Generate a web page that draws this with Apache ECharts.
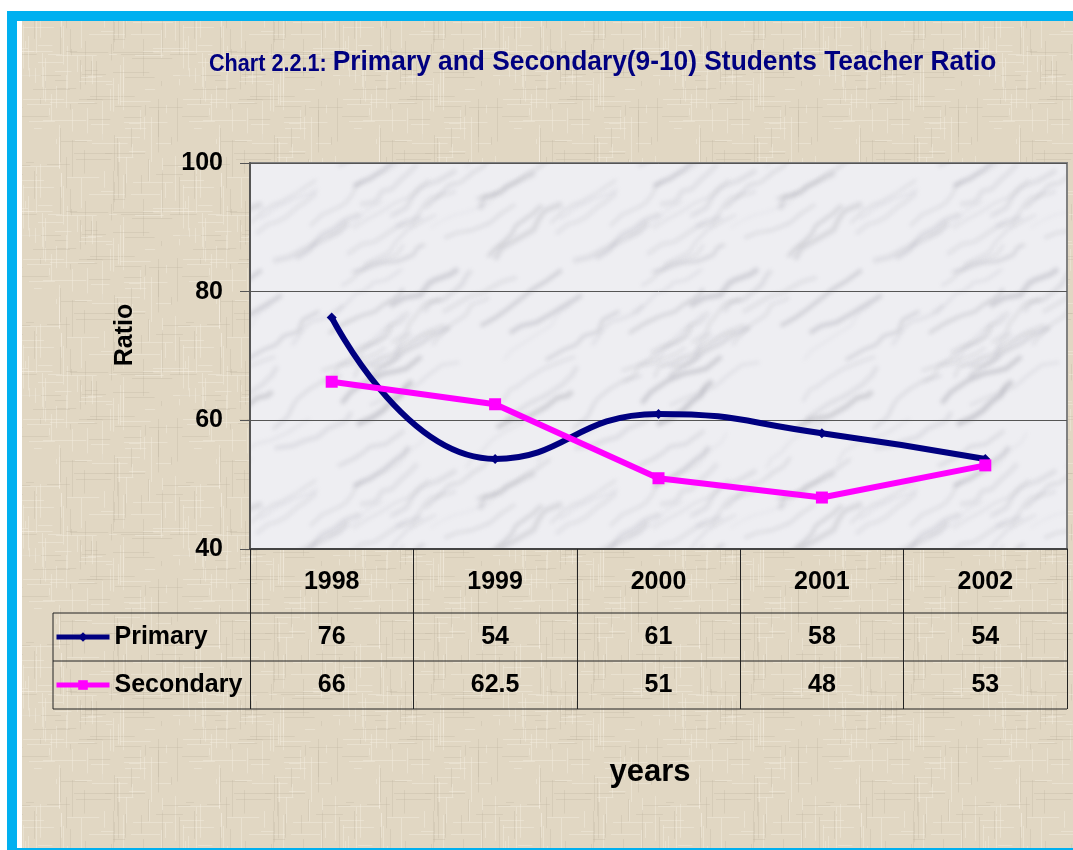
<!DOCTYPE html>
<html>
<head>
<meta charset="utf-8">
<script src="https://cdn.jsdelivr.net/npm/echarts@6/dist/echarts.min.js"></script>
<style>
  html, body { margin: 0; padding: 0; background: #fff; }
  #main { width: 1073px; height: 850px; }
</style>
</head>
<body>
<div id="main"></div>
<script>
const years = ['1998', '1999', '2000', '2001', '2002']
const primary = [76, 54, 61, 58, 54]
const secondary = [66, 62.5, 51, 48, 53]
const seriesNames = ['Primary', 'Secondary']
const yMin = 40
const yMax = 100
const yStep = 20

const FONT = "'Liberation Sans', Arial, sans-serif"
const colors = ['#000080', '#ff00ff']

// texture helpers (decoration only)
let seed = 11
const rnd = () => {
  seed = (seed * 16807) % 2147483647
  return seed / 2147483647
}
const makeCanvas = (w, h) => {
  const c = document.createElement('canvas')
  c.width = w
  c.height = h
  return c
}
const beige = (() => {
  const c = makeCanvas(160, 160)
  const ctx = c.getContext('2d')
  ctx.fillStyle = '#e1d7c3'
  ctx.fillRect(0, 0, 160, 160)
  for (let i = 0; i < 160; i++) {
    const light = rnd() > 0.45
    ctx.fillStyle = light ? 'rgba(244,238,225,0.45)' : 'rgba(185,172,150,0.25)'
    const x = Math.floor(rnd() * 160)
    const y = Math.floor(rnd() * 160)
    const len = 5 + rnd() * 40
    if (rnd() > 0.5) {
      ctx.fillRect(x, y, 1, len)
      ctx.fillRect(x, y - 160, 1, len)
    } else {
      ctx.fillRect(x, y, len, 1)
      ctx.fillRect(x - 160, y, len, 1)
    }
  }
  return c
})()
const marble = (() => {
  const S = 300
  const c = makeCanvas(S, S)
  const ctx = c.getContext('2d')
  ctx.fillStyle = '#eeeef2'
  ctx.fillRect(0, 0, S, S)
  ctx.filter = 'blur(2px)'
  for (let i = 0; i < 55; i++) {
    const pts = []
    let x = rnd() * S
    let y = rnd() * S
    pts.push([x, y])
    for (let k = 0; k < 6; k++) {
      x += 4 + rnd() * 14
      y += -12 + rnd() * 10
      pts.push([x, y])
    }
    const a = 0.1 + rnd() * 0.2
    const w = 1 + rnd() * 4
    for (let ox = -S; ox <= S; ox += S) {
      for (let oy = -S; oy <= S; oy += S) {
        ctx.strokeStyle = 'rgba(115,115,128,' + a + ')'
        ctx.lineWidth = w
        ctx.beginPath()
        pts.forEach((p, j) => {
          if (j === 0) ctx.moveTo(p[0] + ox, p[1] + oy)
          else ctx.lineTo(p[0] + ox, p[1] + oy)
        })
        ctx.stroke()
      }
    }
  }
  return c
})()

const chart = echarts.init(document.getElementById('main'), null, { renderer: 'canvas' })

const option = {
  backgroundColor: '#ffffff',
  animation: false,
  legend: {
    orient: 'vertical',
    left: 49,
    top: 617,
    itemWidth: 53,
    itemHeight: 12,
    itemGap: 18,
    data: seriesNames,
    lineStyle: { width: 5 },
    textStyle: {
      fontFamily: FONT,
      fontWeight: 'bold',
      fontSize: 25,
      lineHeight: 30,
      color: '#000'
    }
  },
  grid: {
    left: 250,
    top: 163,
    width: 817,
    height: 386,
    show: true,
    backgroundColor: { image: marble, repeat: 'repeat' },
    borderColor: '#808080',
    borderWidth: 2
  },
  xAxis: {
    type: 'category',
    data: years,
    boundaryGap: true,
    axisLine: { lineStyle: { color: '#444', width: 2 } },
    axisTick: {
      show: true,
      length: 160,
      lineStyle: { color: '#222', width: 1 }
    },
    axisLabel: {
      margin: 21,
      fontFamily: FONT,
      fontWeight: 'bold',
      fontSize: 25,
      color: '#000'
    }
  },
  yAxis: {
    type: 'value',
    min: yMin,
    max: yMax,
    interval: yStep,
    axisLine: { show: true, lineStyle: { color: '#555', width: 2 } },
    axisTick: { show: true, length: 10, lineStyle: { color: '#555' } },
    splitLine: { show: true, lineStyle: { color: '#555', width: 1 } },
    axisLabel: {
      margin: 27,
      fontFamily: FONT,
      fontWeight: 'bold',
      fontSize: 25,
      color: '#000'
    }
  },
  series: [
    {
      name: seriesNames[0],
      type: 'line',
      data: primary,
      smooth: true,
      symbol: 'diamond',
      symbolSize: 10,
      color: colors[0],
      lineStyle: { width: 6, color: colors[0] },
      itemStyle: { color: colors[0] },
      z: 3
    },
    {
      name: seriesNames[1],
      type: 'line',
      data: secondary,
      smooth: false,
      symbol: 'rect',
      symbolSize: 12,
      color: colors[1],
      lineStyle: { width: 6, color: colors[1] },
      itemStyle: { color: colors[1] },
      z: 4
    }
  ]
}
chart.setOption(option)

// frame, texture, title, table and axis names
const buildGraphic = () => {
  const els = [
    { type: 'rect', z: -30, shape: { x: 7, y: 11, width: 1066, height: 839 }, style: { fill: '#00b0f0' }, silent: true },
    { type: 'rect', z: -29, shape: { x: 17, y: 21, width: 1056, height: 827 }, style: { fill: '#ffffff' }, silent: true },
    { type: 'rect', z: -28, shape: { x: 22, y: 21, width: 1051, height: 827 }, style: { fill: { image: beige, repeat: 'repeat' } }, silent: true },
    {
      type: 'text', z: 5, x: 209, y: 62, scaleX: 0.94,
      style: {
        text: '{a|Chart 2.2.1: }{b|Primary and Secondary(9-10) Students Teacher Ratio}',
        fill: '#000080',
        verticalAlign: 'middle',
        rich: {
          a: { font: 'bold 23px ' + FONT, fill: '#000080', verticalAlign: 'bottom' },
          b: { font: 'bold 28px ' + FONT, fill: '#000080', verticalAlign: 'bottom' }
        }
      }
    },
    {
      type: 'text', z: 5, x: 125, y: 335, rotation: Math.PI / 2,
      style: { text: 'Ratio', font: 'bold 25px ' + FONT, fill: '#000', align: 'center', verticalAlign: 'middle' }
    },
    {
      type: 'text', z: 5, x: 650, y: 772,
      style: { text: 'years', font: 'bold 31px ' + FONT, fill: '#000', align: 'center', verticalAlign: 'middle' }
    }
  ]
  const rowLines = [613, 661, 709]
  rowLines.forEach((y) => {
    els.push({ type: 'line', z: 5, shape: { x1: 53, y1: y, x2: 1067, y2: y }, style: { stroke: '#222', lineWidth: 1 } })
  })
  els.push({ type: 'line', z: 5, shape: { x1: 53, y1: 613, x2: 53, y2: 709 }, style: { stroke: '#222', lineWidth: 1 } })
  const rows = [primary, secondary]
  rows.forEach((vals, r) => {
    vals.forEach((v, i) => {
      const x = chart.convertToPixel({ xAxisIndex: 0 }, years[i])
      els.push({
        type: 'text', z: 5, x: x, y: 637 + r * 48,
        style: { text: String(v), font: 'bold 25px ' + FONT, fill: '#000', align: 'center', verticalAlign: 'middle' }
      })
    })
  })
  chart.setOption({ graphic: { elements: els } })
}
buildGraphic()
</script>
</body>
</html>
